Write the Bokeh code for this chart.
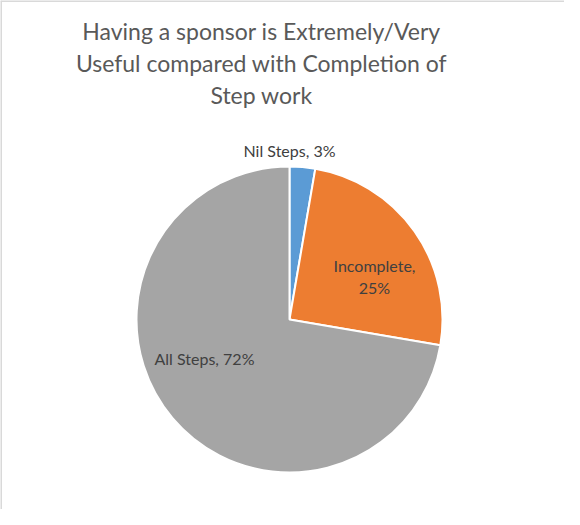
import math
from bokeh.plotting import figure
from bokeh.models import Range1d, Span, ColumnDataSource
from bokeh.core.properties import value
from bokeh.embed import file_html
from bokeh.resources import INLINE

# ---- data ----
categories = ["Nil Steps", "Incomplete", "All Steps"]
shares = [2.7, 25.0, 72.3]
label_text = ["Nil Steps, 3%", "Incomplete,\n25%", "All Steps, 72%"]
colors = ["#5B9BD5", "#ED7D31", "#A5A5A5"]
title_lines = ["Having a sponsor is Extremely/Very",
               "Useful compared with Completion of",
               "Step work"]

# ---- layout (pixel-like data space) ----
W, H = 564, 509
cx, cy, R = 289, 190, 153

p = figure(width=W, height=H, output_backend="svg", toolbar_location=None,
           x_range=Range1d(0, W), y_range=Range1d(0, H), min_border=0,
           match_aspect=False)
p.axis.visible = False
p.grid.visible = False
p.outline_line_color = None
p.background_fill_color = "white"
p.border_fill_color = "white"

# chart border (top and left)
p.add_layout(Span(location=0.5, dimension="height", line_color="#D9D9D9", line_width=2))
p.add_layout(Span(location=H - 0.5, dimension="width", line_color="#D9D9D9", line_width=2))

total = sum(shares)
starts, ends = [], []
cum = 0.0
for s in shares:
    a0 = cum / total
    cum += s
    a1 = cum / total
    # clockwise from 12 o'clock
    starts.append(math.pi / 2 - a1 * 2 * math.pi)
    ends.append(math.pi / 2 - a0 * 2 * math.pi)

src = ColumnDataSource(dict(x=[cx] * 3, y=[cy] * 3, start=starts, end=ends,
                            color=colors, cat=categories))
p.wedge(x="x", y="y", radius=R, start_angle="start", end_angle="end",
        fill_color="color", line_color="white", line_width=2, source=src)

# labels: offsets relative to pie centre (layout)
label_dx = [0, 85, -85]
label_dy = [R + 16, 43, -39]
lx = [cx + d for d in label_dx]
ly = [cy + d for d in label_dy]
lsrc = ColumnDataSource(dict(x=lx, y=ly, t=label_text))
p.text(x="x", y="y", text="t", source=lsrc, text_align="center",
       text_baseline="middle", text_font=value("Lato"), text_font_size="16px",
       text_color="#404040", text_line_height=1.15)

# title
tx = [261] * 3
ty = [479, 447, 415]
tsrc = ColumnDataSource(dict(x=tx, y=ty, t=title_lines))
p.text(x="x", y="y", text="t", source=tsrc, text_align="center",
       text_baseline="alphabetic", text_font=value("Lato"), text_font_size="23px",
       text_color="#595959")

open("out.html", "w").write(file_html(p, INLINE))
